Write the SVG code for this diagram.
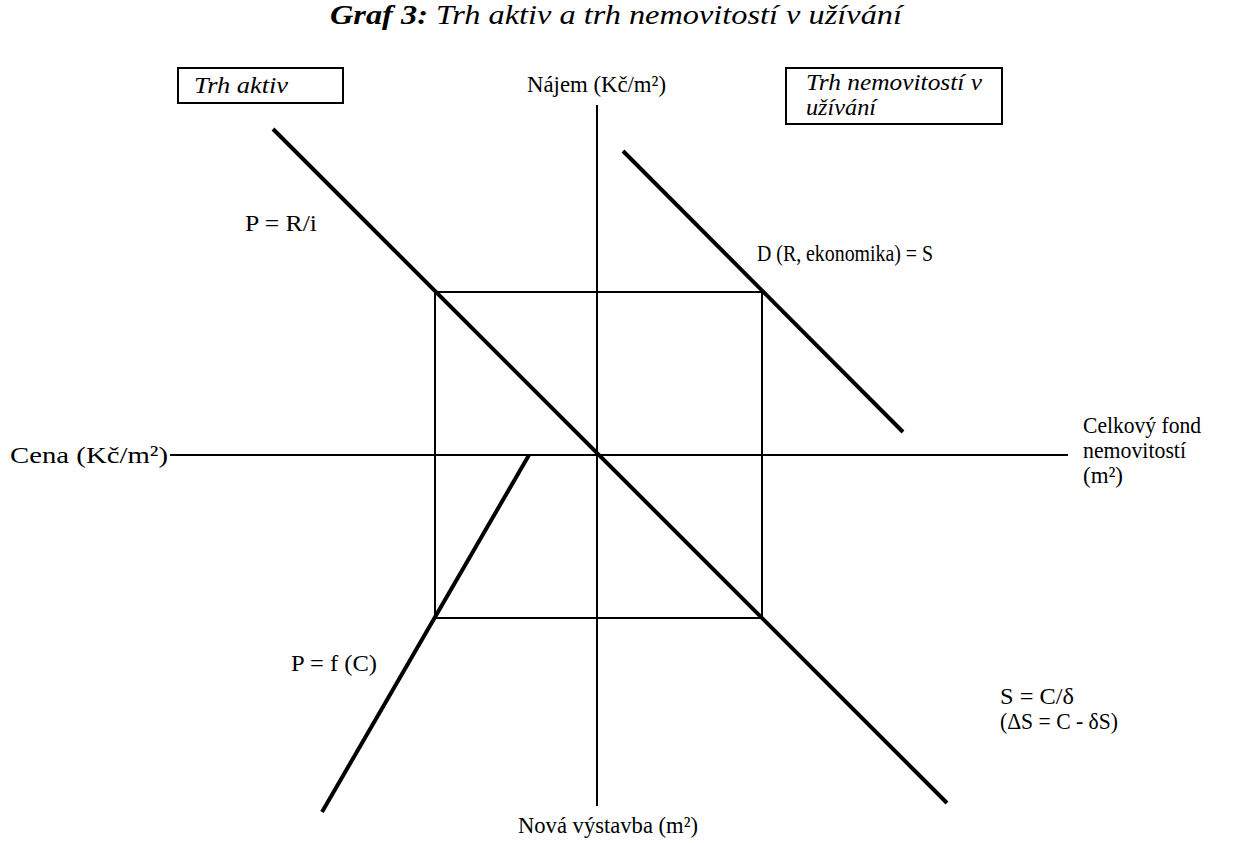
<svg xmlns="http://www.w3.org/2000/svg" width="1237" height="843" viewBox="0 0 1237 843">
<style>
text{font-family:'Liberation Serif','Times New Roman',serif;font-size:23px;fill:#000}
.it{font-style:italic}
.thin{stroke:#000;stroke-width:2;fill:none}
.thick{stroke:#000;stroke-width:4;fill:none}
.box{stroke:#000;stroke-width:2;fill:#fff}
</style>
<rect width="1237" height="843" fill="#fff"/>
<text id="title" x="330" y="24" class="it" style="font-size:28px" textLength="572" lengthAdjust="spacingAndGlyphs"><tspan font-weight="bold">Graf 3:</tspan> Trh aktiv a trh nemovitostí v užívání</text>
<g id="connectors">
<line class="thin" x1="597" y1="105" x2="597" y2="806"/>
<line class="thin" x1="170" y1="455" x2="1068" y2="455"/>
<rect class="thin" x="435" y="292" width="327" height="326"/>
<line class="thick" x1="273" y1="129" x2="947" y2="803"/>
<line class="thick" x1="623" y1="151" x2="903" y2="432"/>
<line class="thick" x1="529" y1="455" x2="322" y2="812"/>
</g>
<g id="box-trh-aktiv">
<rect class="box" x="178" y="68" width="165" height="35"/>
<text class="it" x="194" y="93" textLength="94" lengthAdjust="spacingAndGlyphs">Trh aktiv</text>
</g>
<g id="box-trh-nemovitosti">
<rect class="box" x="786" y="68" width="216" height="56"/>
<text class="it" x="806" y="90" textLength="176" lengthAdjust="spacingAndGlyphs">Trh nemovitostí v</text>
<text class="it" x="806" y="115" textLength="70" lengthAdjust="spacingAndGlyphs">užívání</text>
</g>
<g id="label-najem"><text x="527" y="92" textLength="139" lengthAdjust="spacingAndGlyphs">Nájem (Kč/m²)</text></g>
<g id="label-cena"><text x="10" y="463" style="font-size:24px" textLength="158" lengthAdjust="spacingAndGlyphs">Cena (Kč/m²)</text></g>
<g id="label-fond">
<text x="1083" y="433" textLength="118" lengthAdjust="spacingAndGlyphs">Celkový fond</text>
<text x="1083" y="458" textLength="103" lengthAdjust="spacingAndGlyphs">nemovitostí</text>
<text x="1083" y="483" textLength="40" lengthAdjust="spacingAndGlyphs">(m²)</text>
</g>
<g id="label-vystavba"><text x="518" y="833" textLength="180" lengthAdjust="spacingAndGlyphs">Nová výstavba (m²)</text></g>
<g id="label-pri"><text x="245" y="231" textLength="72" lengthAdjust="spacingAndGlyphs">P = R/i</text></g>
<g id="label-d"><text x="757" y="261" textLength="176" lengthAdjust="spacingAndGlyphs">D (R, ekonomika) = S</text></g>
<g id="label-pfc"><text x="291" y="671" textLength="86" lengthAdjust="spacingAndGlyphs">P = f (C)</text></g>
<g id="label-s">
<text x="1000" y="704" textLength="74" lengthAdjust="spacingAndGlyphs">S = C/δ</text>
<text x="1000" y="729" textLength="118" lengthAdjust="spacingAndGlyphs">(ΔS = C - δS)</text>
</g>
</svg>
